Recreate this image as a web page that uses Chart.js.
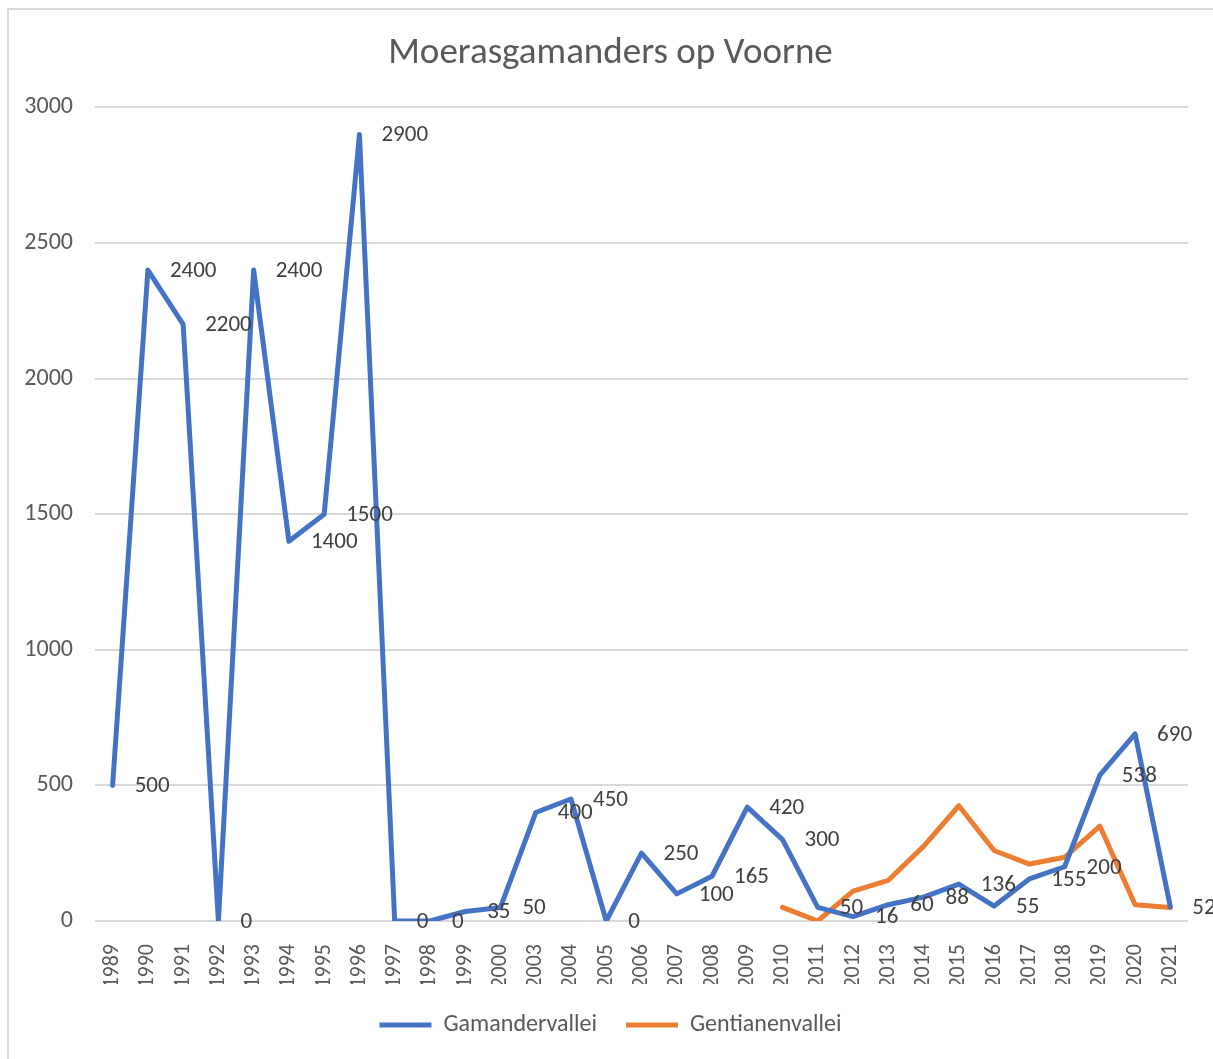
<!DOCTYPE html>
<html>
<head>
<meta charset="utf-8">
<script src="https://cdn.jsdelivr.net/npm/chart.js@4"></script>
<style>
  html, body { margin: 0; padding: 0; background: #fff; }
  #wrap { width: 1213px; height: 1059px; position: relative; }
</style>
</head>
<body>
<div id="wrap"><canvas id="chart"></canvas></div>
<script>
// years on the axis (2001 and 2002 are missing in the source)
var years = ['1989', '1990', '1991', '1992', '1993', '1994', '1995', '1996', '1997', '1998', '1999', '2000',
  '2003', '2004', '2005', '2006', '2007', '2008', '2009', '2010', '2011', '2012', '2013', '2014',
  '2015', '2016', '2017', '2018', '2019', '2020', '2021']

var gamandervallei = [500, 2400, 2200, 0, 2400, 1400, 1500, 2900, 0, 0, 35, 50,
  400, 450, 0, 250, 100, 165, 420, 300, 50, 16, 60, 88,
  136, 55, 155, 200, 538, 690, 52]

var gentianenvallei = [null, null, null, null, null, null, null, null, null, null, null, null,
  null, null, null, null, null, null, null, 50, 0, 110, 150, 275,
  425, 260, 210, 235, 350, 60, 50]

var yTicks = [0, 500, 1000, 1500, 2000, 2500, 3000]

var FONT = "Carlito, 'Open Sans', sans-serif"
var GREY = '#595959'

// value labels to the right of each blue point, like the Excel chart
var valueLabels = {
  id: 'valueLabels',
  afterDatasetsDraw(chart) {
    var ctx = chart.ctx
    var meta = chart.getDatasetMeta(0)
    ctx.save()
    ctx.font = '23px ' + FONT
    ctx.fillStyle = '#404040'
    ctx.textAlign = 'left'
    ctx.textBaseline = 'middle'
    meta.data.forEach((pt, i) => {
      ctx.fillText(String(gamandervallei[i]), pt.x + 22, pt.y + 1)
    })
    ctx.restore()
  }
}

// thin frame on the left and top edge
var frame = {
  id: 'frame',
  beforeDraw(chart) {
    var ctx = chart.ctx
    ctx.save()
    ctx.strokeStyle = '#d9d9d9'
    ctx.lineWidth = 2
    ctx.beginPath()
    ctx.moveTo(8, chart.height)
    ctx.lineTo(8, 9)
    ctx.lineTo(chart.width, 9)
    ctx.stroke()
    ctx.restore()
  }
}

var ctx = document.getElementById('chart')
var myChart = new Chart(ctx, {
  type: 'line',
  data: {
    labels: years,
    datasets: [{
      label: 'Gamandervallei',
      data: gamandervallei,
      borderColor: '#4472C4',
      backgroundColor: '#4472C4',
      borderWidth: 5,
      borderJoinStyle: 'round',
      borderCapStyle: 'round',
      pointRadius: 0,
      fill: false,
      tension: 0
    },
    {
      label: 'Gentianenvallei',
      data: gentianenvallei,
      borderColor: '#ED7D31',
      backgroundColor: '#ED7D31',
      borderWidth: 5,
      borderJoinStyle: 'round',
      borderCapStyle: 'round',
      pointRadius: 0,
      fill: false,
      tension: 0
    }]
  },
  options: {
    responsive: true,
    maintainAspectRatio: false,
    animation: false,
    layout: { padding: { left: 8, top: 8, right: 0, bottom: 12 } },
    plugins: {
      tooltip: { enabled: false },
      title: {
        display: true,
        text: 'Moerasgamanders op Voorne',
        color: GREY,
        font: { family: FONT, size: 37, weight: 'normal' },
        padding: { top: 24, bottom: 31 }
      },
      legend: {
        position: 'bottom',
        labels: {
          color: GREY,
          font: { family: FONT, size: 24 },
          boxWidth: 52,
          boxHeight: 5,
          padding: 29,
          generateLabels(chart) {
            return chart.data.datasets.map((ds, i) => ({
              text: ds.label,
              fillStyle: ds.borderColor,
              strokeStyle: ds.borderColor,
              lineWidth: 0,
              fontColor: GREY,
              hidden: false,
              datasetIndex: i
            }))
          }
        }
      }
    },
    scales: {
      x: {
        offset: true,
        grid: { display: false },
        border: { display: false },
        afterFit(scale) { scale.height = 63 },
        ticks: {
          color: GREY,
          font: { family: FONT, size: 22 },
          minRotation: 90,
          maxRotation: 90,
          autoSkip: false,
          padding: 15
        }
      },
      y: {
        min: 0,
        max: 3000,
        afterBuildTicks(scale) {
          scale.ticks = yTicks.map(v => ({ value: v }))
        },
        afterFit(scale) { scale.width = 87 },
        grid: { color: '#d9d9d9', lineWidth: 2, drawTicks: false },
        border: { display: false },
        ticks: {
          color: GREY,
          font: { family: FONT, size: 24 },
          padding: 22,
          callback: v => String(v)
        }
      },
      // empty axis that only keeps a margin on the right of the plot
      spacer: {
        position: 'right',
        grid: { display: false },
        border: { display: false },
        ticks: { display: false },
        afterFit(scale) { scale.width = 25 }
      }
    }
  },
  plugins: [frame, valueLabels]
})
</script>
</body>
</html>
